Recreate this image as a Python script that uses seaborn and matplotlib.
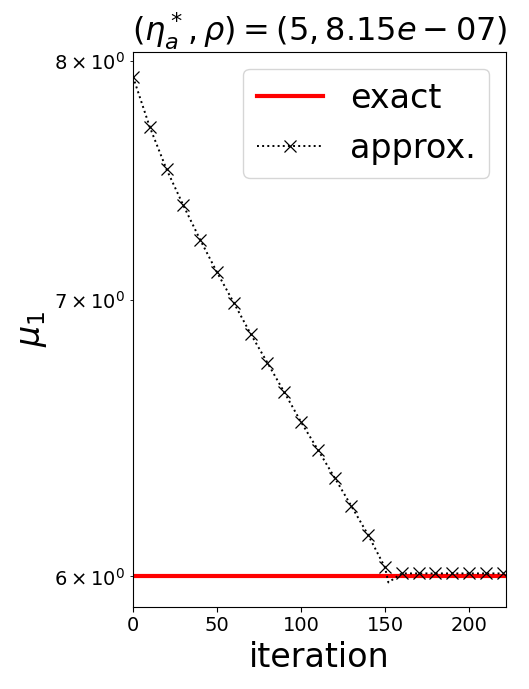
import matplotlib
matplotlib.use('Agg')
import matplotlib.pyplot as plt
import seaborn as sns

# valores
iteraciones = [0, 10, 20, 30, 40, 50, 60, 70, 80, 90, 100, 110, 120, 130, 140, 150,
               152, 160, 170, 180, 190, 200, 210, 220]
mu_aprox = [7.93, 7.71, 7.53, 7.38, 7.24, 7.11, 6.99, 6.87, 6.76, 6.65, 6.54, 6.44,
            6.34, 6.24, 6.14, 6.03, 5.98, 6.01, 6.01, 6.01, 6.01, 6.01, 6.01, 6.01]
x_exacto = [0, 222]
mu_exacto = [6.0, 6.0]
marcas = [i for i in range(len(iteraciones)) if i != 16]  # sin marca en el minimo

fig = plt.figure(figsize=(5.29, 6.89), dpi=100)
ax = fig.add_axes([0.2514, 0.1197, 0.7051, 0.8048])

sns.lineplot(x=x_exacto, y=mu_exacto, ax=ax, color='red', linewidth=3, label='exact')
sns.lineplot(x=iteraciones, y=mu_aprox, ax=ax, color='black', linestyle=':',
             linewidth=1.4, marker='x', markersize=8, markevery=marcas,
             markeredgewidth=0.9, markeredgecolor='black', label='approx.')

ax.set_yscale('log')
ax.set_ylim(5.90, 8.04)
ax.set_xlim(0, 222)
ax.tick_params(axis='both', which='both', labelsize=14)
ax.set_xlabel('iteration', fontsize=24)
ax.set_ylabel(r'$\mu_1$', fontsize=24)
ax.set_title(r'$(\eta_a^*, \rho) = (5, 8.15e-07)$', fontsize=23)
ax.legend(loc='upper right', fontsize=24)

fig.savefig('out.png', dpi=100)
